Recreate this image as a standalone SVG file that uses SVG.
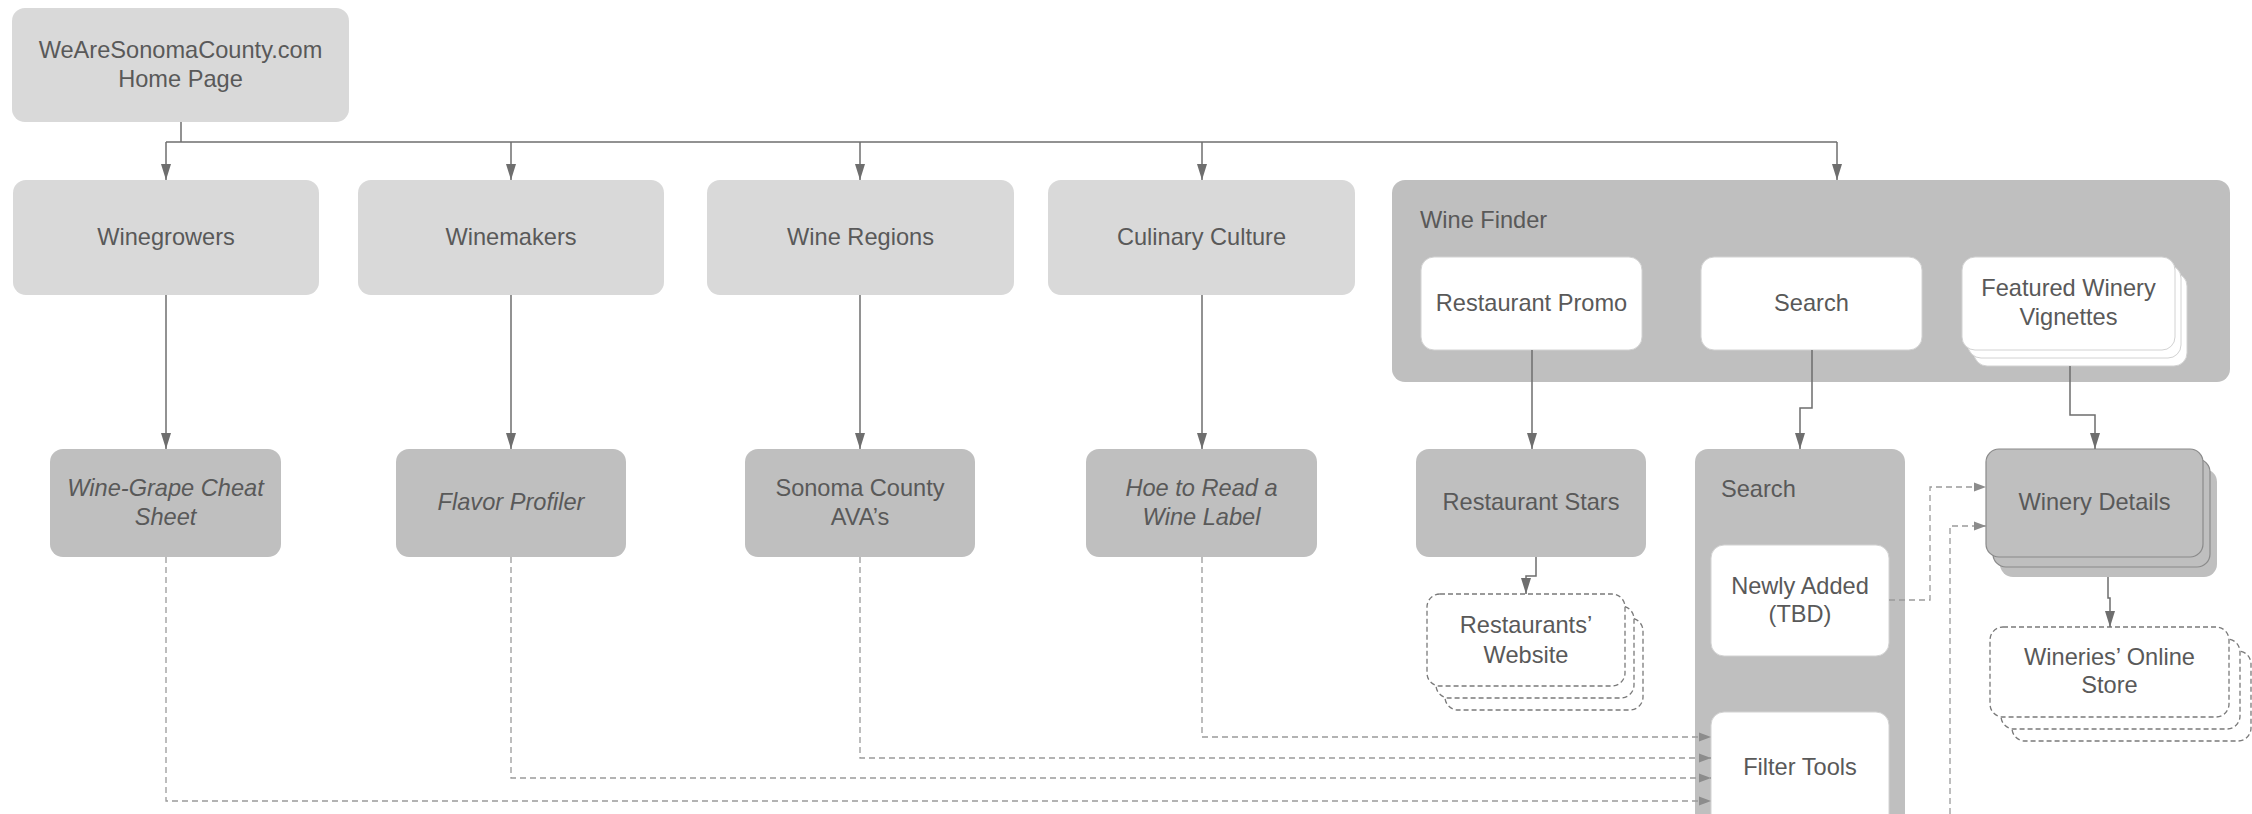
<svg xmlns="http://www.w3.org/2000/svg" width="2252" height="814" viewBox="0 0 2252 814">
<style>
  text{font-family:"Liberation Sans",Arial,sans-serif;font-size:23.6px;fill:#595959;}
  .c{text-anchor:middle;}
  .i{font-style:italic;}
  .l1{fill:#d9d9d9;}
  .l2{fill:#bfbfbf;}
  .w{fill:#ffffff;stroke:#d2d2d2;stroke-width:1;}
  .dbox{fill:#ffffff;stroke:#7a7a7a;stroke-width:1.3;stroke-dasharray:5 3;}
  .stk{fill:#bfbfbf;stroke:#8a8a8a;stroke-width:1.2;}
  .s{fill:none;stroke:#6e6e6e;stroke-width:1.5;marker-end:url(#a);}
  .s0{fill:none;stroke:#6e6e6e;stroke-width:1.5;}
  .d{fill:none;stroke:#9a9a9a;stroke-width:1.3;stroke-dasharray:6 4;marker-end:url(#b);}
</style>
<defs>
  <marker id="a" markerWidth="16" markerHeight="10" refX="16" refY="5" orient="auto" markerUnits="userSpaceOnUse"><path d="M0,0 L16,5 L0,10 Z" fill="#6e6e6e"/></marker>
  <marker id="b" markerWidth="12" markerHeight="10" refX="12" refY="5" orient="auto" markerUnits="userSpaceOnUse"><path d="M0,0.5 L12,5 L0,9.5 Z" fill="#8c8c8c"/></marker>
</defs>

<g id="home">
  <rect class="l1" x="12" y="8" width="337" height="114" rx="13"/>
  <text class="c" x="180.5" y="58">WeAreSonomaCounty.com</text>
  <text class="c" x="180.5" y="87">Home Page</text>
</g>

<g id="winegrowers">
  <rect class="l1" x="13" y="180" width="306" height="115" rx="13"/>
  <text class="c" x="166" y="245">Winegrowers</text>
</g>
<g id="winemakers">
  <rect class="l1" x="358" y="180" width="306" height="115" rx="13"/>
  <text class="c" x="511" y="245">Winemakers</text>
</g>
<g id="wine-regions">
  <rect class="l1" x="707" y="180" width="307" height="115" rx="13"/>
  <text class="c" x="860.5" y="245">Wine Regions</text>
</g>
<g id="culinary-culture">
  <rect class="l1" x="1048" y="180" width="307" height="115" rx="13"/>
  <text class="c" x="1201.5" y="245">Culinary Culture</text>
</g>

<g id="wine-finder">
  <rect class="l2" x="1392" y="180" width="838" height="202" rx="13"/>
  <text x="1420" y="228">Wine Finder</text>
</g>
<g id="restaurant-promo">
  <rect class="w" x="1421" y="257" width="221" height="93" rx="13"/>
  <text class="c" x="1531.5" y="311">Restaurant Promo</text>
</g>
<g id="search-promo">
  <rect class="w" x="1701" y="257" width="221" height="93" rx="13"/>
  <text class="c" x="1811.5" y="311">Search</text>
</g>
<g id="featured-winery">
  <rect class="w" x="1974" y="273" width="213" height="93" rx="13"/>
  <rect class="w" x="1968" y="265" width="213" height="93" rx="13"/>
  <rect class="w" x="1962" y="257" width="213" height="93" rx="13"/>
  <text class="c" x="2068.5" y="296">Featured Winery</text>
  <text class="c" x="2068.5" y="325">Vignettes</text>
</g>

<g id="wine-grape-cheat-sheet">
  <rect class="l2" x="50" y="449" width="231" height="108" rx="13"/>
  <text class="c i" x="165.5" y="496">Wine-Grape Cheat</text>
  <text class="c i" x="165.5" y="525">Sheet</text>
</g>
<g id="flavor-profiler">
  <rect class="l2" x="396" y="449" width="230" height="108" rx="13"/>
  <text class="c i" x="511" y="510">Flavor Profiler</text>
</g>
<g id="sonoma-county-avas">
  <rect class="l2" x="745" y="449" width="230" height="108" rx="13"/>
  <text class="c" x="860" y="496">Sonoma County</text>
  <text class="c" x="860" y="525">AVA’s</text>
</g>
<g id="how-to-read-label">
  <rect class="l2" x="1086" y="449" width="231" height="108" rx="13"/>
  <text class="c i" x="1201.5" y="496">Hoe to Read a</text>
  <text class="c i" x="1201.5" y="525">Wine Label</text>
</g>
<g id="restaurant-stars">
  <rect class="l2" x="1416" y="449" width="230" height="108" rx="13"/>
  <text class="c" x="1531" y="510">Restaurant Stars</text>
</g>
<g id="restaurants-website">
  <rect class="dbox" x="1445" y="618" width="198" height="92" rx="13"/>
  <rect class="dbox" x="1436" y="606" width="198" height="92" rx="13"/>
  <rect class="dbox" x="1427" y="594" width="198" height="92" rx="13"/>
  <text class="c" x="1526" y="633">Restaurants’</text>
  <text class="c" x="1526" y="663">Website</text>
</g>

<g id="search">
  <rect class="l2" x="1695" y="449" width="210" height="420" rx="13"/>
  <text x="1721" y="497">Search</text>
</g>
<g id="newly-added">
  <rect class="w" x="1711" y="545" width="178" height="111" rx="13"/>
  <text class="c" x="1800" y="594">Newly Added</text>
  <text class="c" x="1800" y="622">(TBD)</text>
</g>
<g id="filter-tools">
  <rect class="w" x="1711" y="712" width="178" height="160" rx="13"/>
  <text class="c" x="1800" y="775">Filter Tools</text>
</g>

<g id="winery-details">
  <rect x="2000" y="469" width="217" height="108" rx="13" fill="#bfbfbf"/>
  <rect class="stk" x="1993" y="459" width="217" height="108" rx="13"/>
  <rect class="stk" x="1986" y="449" width="217" height="108" rx="13"/>
  <text class="c" x="2094.5" y="510">Winery Details</text>
</g>
<g id="wineries-online-store">
  <rect class="dbox" x="2012" y="651" width="239" height="90" rx="13"/>
  <rect class="dbox" x="2001" y="639" width="239" height="90" rx="13"/>
  <rect class="dbox" x="1990" y="627" width="239" height="90" rx="13"/>
  <text class="c" x="2109.5" y="665">Wineries’ Online</text>
  <text class="c" x="2109.5" y="693">Store</text>
</g>

<g id="connectors">
  <path class="s0" d="M181,122 V142"/>
  <path class="s0" d="M166,142 H1837"/>
  <path class="s" d="M166,142 V180"/>
  <path class="s" d="M511,142 V180"/>
  <path class="s" d="M860,142 V180"/>
  <path class="s" d="M1202,142 V180"/>
  <path class="s" d="M1837,142 V180"/>
  <path class="s" d="M166,295 V449"/>
  <path class="s" d="M511,295 V449"/>
  <path class="s" d="M860,295 V449"/>
  <path class="s" d="M1202,295 V449"/>
  <path class="s" d="M1532,350 V449"/>
  <path class="s" d="M1812,350 V408 H1800 V449"/>
  <path class="s" d="M2070,366 V415 H2095 V449"/>
  <path class="s" d="M1536,557 V576 H1526 V594"/>
  <path class="s" d="M2108,577 V598 H2110 V627"/>
  <path class="d" d="M166,557 V801 H1711"/>
  <path class="d" d="M511,557 V778 H1711"/>
  <path class="d" d="M860,557 V758 H1711"/>
  <path class="d" d="M1202,557 V737 H1711"/>
  <path class="d" d="M1889,600 H1930 V487 H1986"/>
  <path class="d" d="M1950,814 V526 H1986"/>
</g>
</svg>
